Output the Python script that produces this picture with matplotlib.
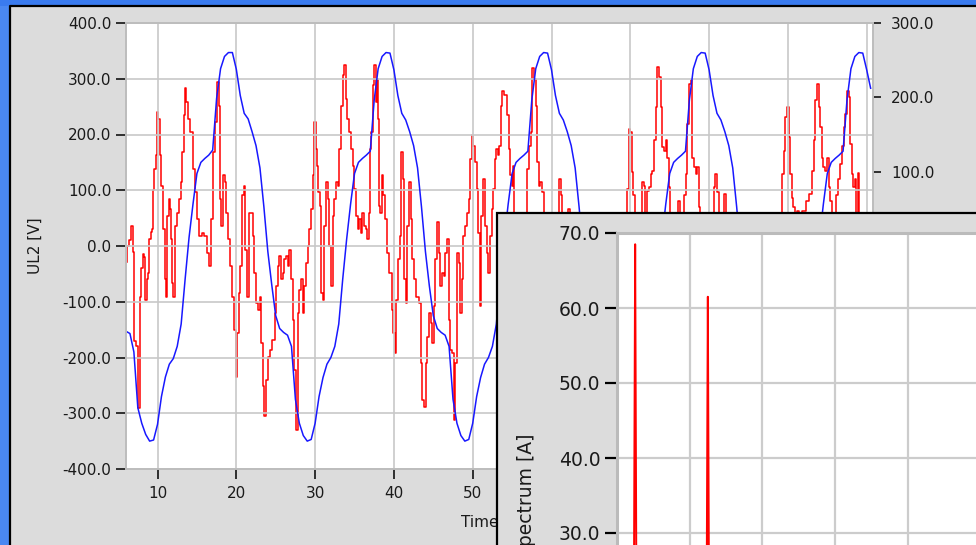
import matplotlib
matplotlib.use("Agg")
import matplotlib.pyplot as plt
from matplotlib.patches import Rectangle
from matplotlib.lines import Line2D
from matplotlib.ticker import MultipleLocator, FormatStrFormatter

plt.rcParams['font.family'] = ['DejaVu Sans']
plt.rcParams['axes.unicode_minus'] = False

# Voltage UL2 [V], one sample every 0.5 ms starting at 6.0 ms
ul2_start, ul2_step = 6.0, 0.5
ul2 = [
    -153, -157, -190, -290, -318, -338, -350, -348, -320, -270,
    -235, -212, -202, -180, -140, -60, 15, 75, 130, 150,
    157, 163, 172, 265, 318, 340, 347, 347, 317, 270,
    238, 228, 205, 180, 140, 70, -10, -70, -125, -148,
    -155, -160, -180, -275, -318, -340, -350, -347, -318, -270,
    -236, -212, -200, -180, -140, -60, 12, 75, 130, 150,
    157, 163, 170, 262, 318, 340, 347, 346, 316, 270,
    238, 226, 205, 180, 140, 70, -10, -72, -125, -148,
    -155, -160, -180, -275, -318, -340, -350, -347, -318, -270,
    -236, -212, -200, -180, -140, -60, 12, 75, 130, 150,
    157, 163, 170, 262, 318, 340, 347, 346, 316, 270,
    238, 226, 205, 180, 140, 70, -10, -72, -125, -148,
    -155, -160, -180, -275, -318, -340, -350, -347, -318, -270,
    -236, -212, -200, -180, -140, -60, 12, 75, 130, 150,
    157, 163, 170, 262, 318, 340, 347, 346, 316, 270,
    238, 226, 205, 180, 140, 70, -10, -72, -125, -148,
    -155, -160, -180, -275, -318, -340, -350, -347, -318, -270,
    -236, -212, -200, -180, -140, -60, 12, 75, 130, 150,
    157, 163, 170, 262, 318, 340, 347, 346, 316, 283,
]
ul2_t = [ul2_start + ul2_step * i for i in range(len(ul2))]

# Current [A] (right axis), read point by point
il_t = [
    6.07, 6.3, 6.5, 6.8, 7.0, 7.15, 7.34, 7.68, 7.85, 8.0,
    8.19, 8.35, 8.52, 8.7, 8.82, 9.03, 9.2, 9.32, 9.45, 9.66,
    9.87, 10.0, 10.2, 10.38, 10.59, 10.8, 11.0, 11.14, 11.35, 11.56,
    11.69, 11.77, 11.9, 12.1, 12.3, 12.6, 12.83, 13.04, 13.25, 13.38,
    13.59, 13.76, 13.97, 14.3, 14.6, 14.85, 15.15, 15.44, 15.78, 16.12,
    16.41, 16.7, 16.96, 17.17, 17.38, 17.68, 17.8, 17.98, 18.23, 18.44,
    18.65, 18.82, 19.07, 19.28, 19.58, 19.8, 20.09, 20.2, 20.4, 20.55,
    20.85, 21.06, 21.27, 21.48, 21.64, 21.98, 22.19, 22.4, 22.6, 22.9,
    23.04, 23.25, 23.46, 23.67, 23.88, 24.09, 24.43, 24.73, 25.02, 25.15,
    25.36, 25.57, 25.78, 25.99, 26.2, 26.41, 26.62, 26.83, 27.05, 27.26,
    27.47, 27.68, 27.89, 28.1, 28.31, 28.52, 28.73, 28.95, 29.16, 29.37,
    29.58, 29.79, 30.0, 30.13, 30.34, 30.5, 30.72, 30.84, 31.05, 31.27,
    31.48, 31.69, 31.9, 32.11, 32.32, 32.53, 32.74, 32.95, 33.17, 33.38,
    33.59, 33.8, 34.0, 34.22, 34.43, 34.64, 34.85, 35.06, 35.28, 35.49,
    35.7, 35.9, 36.12, 36.33, 36.54, 36.75, 36.96, 37.05, 37.19, 37.4,
    37.6, 37.73, 37.9, 38.03, 38.15, 38.32, 38.57, 38.74, 38.99, 39.29,
    39.58, 39.83, 40.0, 40.21, 40.42, 40.67, 40.84, 41.05, 41.18, 41.39,
    41.6, 41.81, 42.02, 42.23, 42.44, 42.65, 42.86, 43.07, 43.28, 43.49,
    43.7, 43.91, 44.12, 44.33, 44.54, 44.75, 44.96, 45.17, 45.38, 45.59,
    45.8, 46.0, 46.2, 46.4, 46.6, 46.9, 47.06, 47.27, 47.48, 47.69,
    47.9, 48.1, 48.3, 48.5, 48.7, 48.95, 49.16, 49.37, 49.58, 49.79,
    50.0, 50.2, 50.4, 50.6, 50.8, 51.0, 51.2, 51.4, 51.7, 51.9,
    52.1, 52.3, 52.5, 52.7, 52.9, 53.1, 53.25, 53.46, 53.67, 53.88,
    54.1, 54.3, 54.5, 54.7, 54.85, 55.0, 55.1, 55.3, 55.5, 55.8,
    56.1, 56.4, 56.7, 56.96, 57.26, 57.47, 57.68, 57.89, 58.1, 58.3,
    58.5, 58.7, 58.9, 59.1, 59.4, 59.7, 60.0, 60.3, 60.6, 60.85,
    61.05, 61.27, 61.5, 61.8, 62.0, 62.2, 62.5, 62.8, 63.1, 63.4,
    63.7, 64.0, 64.3, 64.6, 64.9, 65.2, 65.5, 65.8, 66.1, 66.4,
    66.7, 67.0, 67.3, 67.6, 67.9, 68.2, 68.5, 68.8, 69.1, 69.4,
    69.7, 69.92, 70.1, 70.3, 70.5, 70.76, 71.0, 71.3, 71.6, 71.8,
    72.0, 72.28, 72.5, 72.7, 72.9, 73.1, 73.3, 73.55, 73.76, 73.97,
    74.2, 74.4, 74.6, 74.8, 75.0, 75.15, 75.4, 75.7, 75.9, 76.1,
    76.4, 76.7, 76.9, 77.13, 77.34, 77.55, 77.76, 77.9, 78.18, 78.4,
    78.6, 78.8, 79.0, 79.3, 79.6, 79.9, 80.2, 80.5, 80.7, 80.9,
    81.1, 81.4, 81.7, 81.98, 82.2, 82.5, 82.8, 83.1, 83.4, 83.7,
    84.0, 84.3, 84.6, 84.9, 85.2, 85.5, 85.8, 86.1, 86.4, 86.7,
    87.0, 87.3, 87.6, 87.9, 88.2, 88.5, 88.8, 89.1, 89.37, 89.58,
    89.8, 90.0, 90.2, 90.4, 90.6, 90.8, 91.0, 91.27, 91.6, 92.0,
    92.5, 92.95, 93.16, 93.37, 93.58, 93.8, 94.0, 94.2, 94.4, 94.6,
    94.85, 95.06, 95.27, 95.48, 95.7, 96.0, 96.3, 96.5, 96.75, 96.95,
    97.17, 97.38, 97.6, 97.8, 98.0, 98.2, 98.4, 98.6, 98.8, 98.95,
    99.1, 99.4, 99.7, 100.0, 100.3, 100.55,
]
il = [
    -22, 0, 8, 27, -8, -128, -135, -218, -68, -30,
    -11, -15, -72, -45, -36, 9, 19, 23, 75, 104,
    122, 180, 171, 122, 81, 23, -45, -68, 41, 63,
    50, 9, -50, -68, 27, 45, 63, 86, 126, 176,
    212, 194, 171, 153, 104, 72, 36, 14, 18, 14,
    -9, -27, 36, 126, 167, 221, 189, 63, 27, 95,
    86, 45, 9, -27, -68, -113, -176, -117, -63, -27,
    68, 81, -5, -68, 45, 45, 14, -36, -77, -86,
    -68, -131, -189, -229, -180, -149, -140, -126, -90, -54,
    -27, -14, -45, -36, -18, -14, -27, -5, -45, -99,
    -167, -248, -90, -59, -45, -90, -54, -23, 0, 23,
    50, 95, 167, 131, 108, 72, 54, -63, -72, 27,
    86, 63, 0, -54, 41, 63, 86, 81, 131, 189,
    230, 243, 198, 171, 153, 131, 108, 77, 41, 23,
    36, 18, 45, 27, 23, 9, 45, 131, 153, 216,
    243, 194, 225, 171, 54, 45, 95, 68, 36, -9,
    -36, -86, -117, -144, -72, -18, 14, 126, 90, -45,
    -77, 27, 86, 36, -18, -45, -68, -68, -77, -158,
    -207, -216, -158, -122, -90, -104, -131, -81, -18, 32,
    -9, -54, -36, -41, -9, 9, -99, -140, -144, -234,
    -158, -9, -23, -90, -45, 14, 27, 45, 63, 117,
    149, 135, 113, 77, 18, -81, 41, 90, 27, -9,
    -36, 14, 50, 77, 117, 131, 122, 135, 189, 209,
    203, 203, 176, 131, 95, 81, 108, 45, 15, -30,
    0, -15, 23, 104, 135, 153, 239, 225, 189, 113,
    81, 86, 72, 15, -45, -90, -150, -75, -23, 30,
    90, 68, 15, -30, 23, 50, -15, -68, -45, -128,
    -210, -150, -113, -75, -45, -23, -38, -15, -30, -8,
    -30, -113, -165, -225, -98, -53, -75, -30, 0, 30,
    77, 158, 153, 99, 68, 45, -23, 15, 86, 81,
    30, 74, 79, 97, 101, 142, 187, 241, 227, 187,
    133, 128, 142, 119, 79, 43, 8, -23, 23, 61,
    15, 30, 68, 97, 164, 218, 223, 119, 106, 97,
    106, 52, 8, -45, -98, -165, -75, -15, 79, 97,
    72, 15, -23, 70, 15, -45, -75, -60, -135, -218,
    -158, -120, -83, -98, -45, -15, -38, -23, -8, -45,
    -105, -173, -240, -90, -53, -83, -38, 23, 97, 128,
    173, 187, 146, 97, 65, 52, 8, 47, -15, 47,
    61, 70, 101, 142, 196, 218, 187, 160, 119, 106,
    101, 119, 79, 61, 15, 45, 68, 90, 110, 135,
    160, 178, 209, 200, 137, 97, 79, 90, 45, 98,
    23, -68, -113, -173, -105, -45,
]

# Current spectrum [A] over frequency [Hz]
spec_f = [0, 40, 45, 47.5, 50, 52.5, 55, 60, 240, 245, 247.5, 250, 252.5, 255, 260, 1200]
spec_a = [0, 0, 0, 35, 68.5, 34, 0, 0, 0, 0, 30.8, 61.5, 30, 0, 0, 0]

W, H = 976, 545
def fx(px):
    return px / W
def fy(py):
    return 1 - py / H

fig = plt.figure(figsize=(W / 100, H / 100), dpi=100, facecolor='#DCDCDC')

# window frame
fig.add_artist(Rectangle((0, 0), fx(10), 1, transform=fig.transFigure,
                         facecolor='#4A88F2', edgecolor='none', zorder=-5))
fig.add_artist(Rectangle((0, fy(6)), 1, 6 / H, transform=fig.transFigure,
                         facecolor='#3A7BEF', edgecolor='none', zorder=-5))
fig.add_artist(Line2D([fx(10), fx(10), 1], [0, fy(6), fy(6)], transform=fig.transFigure,
                      color='black', lw=1.6, zorder=-4))

# main time plot
ax = fig.add_axes([fx(126), fy(469), (873 - 126) / W, (469 - 23) / H])
ax2 = ax.twinx()
ax.set_zorder(2)
ax2.set_zorder(1)
ax.patch.set_visible(False)
ax2.patch.set_visible(True)
ax2.set_facecolor('white')

ax2.plot(il_t, il, color='#FF0000', lw=1.1, drawstyle='steps-mid')
ax.plot(ul2_t, ul2, color='#1818FF', lw=1.1)

ax.set_xlim(6.0, 100.8)
ax.set_ylim(-400, 400)
ax2.set_ylim(-300, 300)
ax.xaxis.set_major_locator(MultipleLocator(10))
ax.yaxis.set_major_locator(MultipleLocator(100))
ax2.yaxis.set_major_locator(MultipleLocator(100))
ax.yaxis.set_major_formatter(FormatStrFormatter('%.1f'))
ax2.yaxis.set_major_formatter(FormatStrFormatter('%.1f'))
ax.grid(True, color='#C8C8C8', lw=1.2)
ax.set_axisbelow(True)
for s in ax.spines.values():
    s.set_color('#BDBDBD')
    s.set_linewidth(1.4)
for s in ax2.spines.values():
    s.set_visible(False)
ax.tick_params(axis='y', direction='out', length=7, width=1.1, color='black',
               labelsize=11, pad=3.5, labelcolor='#1a1a1a')
ax.tick_params(axis='x', direction='out', length=7.5, width=1.1, color='black',
               labelsize=11, pad=4.5, labelcolor='#1a1a1a')
ax2.tick_params(axis='y', direction='out', length=6, width=1.1, color='black',
                labelsize=11, pad=7, labelcolor='#1a1a1a')
ax.set_ylabel('UL2 [V]', fontsize=11, color='#1a1a1a')
ax.yaxis.set_label_coords(-0.111, 0.5)
ax.set_xlabel('Time [ms]', fontsize=11, color='#1a1a1a')
ax.xaxis.set_label_coords(0.5, -0.103)

# spectrum window on top
fig.add_artist(Rectangle((fx(497), -0.3), 1, fy(213) + 0.3, transform=fig.transFigure,
                         facecolor='#DCDCDC', edgecolor='black', lw=1.6, zorder=5))

axi = fig.add_axes([fx(617), fy(758), 436 / W, 525 / H])
axi.set_zorder(6)
axi.set_facecolor('white')
axi.plot(spec_f, spec_a, color='#FF0000', lw=1.4)
axi.set_xlim(0, 1200)
axi.set_ylim(0, 70)
axi.xaxis.set_major_locator(MultipleLocator(200))
axi.yaxis.set_major_locator(MultipleLocator(10))
axi.yaxis.set_major_formatter(FormatStrFormatter('%.1f'))
axi.grid(True, color='#CCCCCC', lw=1.6)
axi.set_axisbelow(True)
for s in axi.spines.values():
    s.set_color('#BBBBBB')
    s.set_linewidth(2.2)
axi.tick_params(direction='out', length=8.5, width=1.6, color='black',
                labelsize=13.5, pad=3.5, labelcolor='#1a1a1a')
# frequency labels sit below the visible part of the window
axi.tick_params(axis='x', labelbottom=False, length=0)
axi.set_ylabel('Spectrum [A]', fontsize=13.5, color='#1a1a1a')
axi.yaxis.set_label_coords(-0.186, 0.5)

fig.savefig('out.png', dpi=100, facecolor=fig.get_facecolor())
